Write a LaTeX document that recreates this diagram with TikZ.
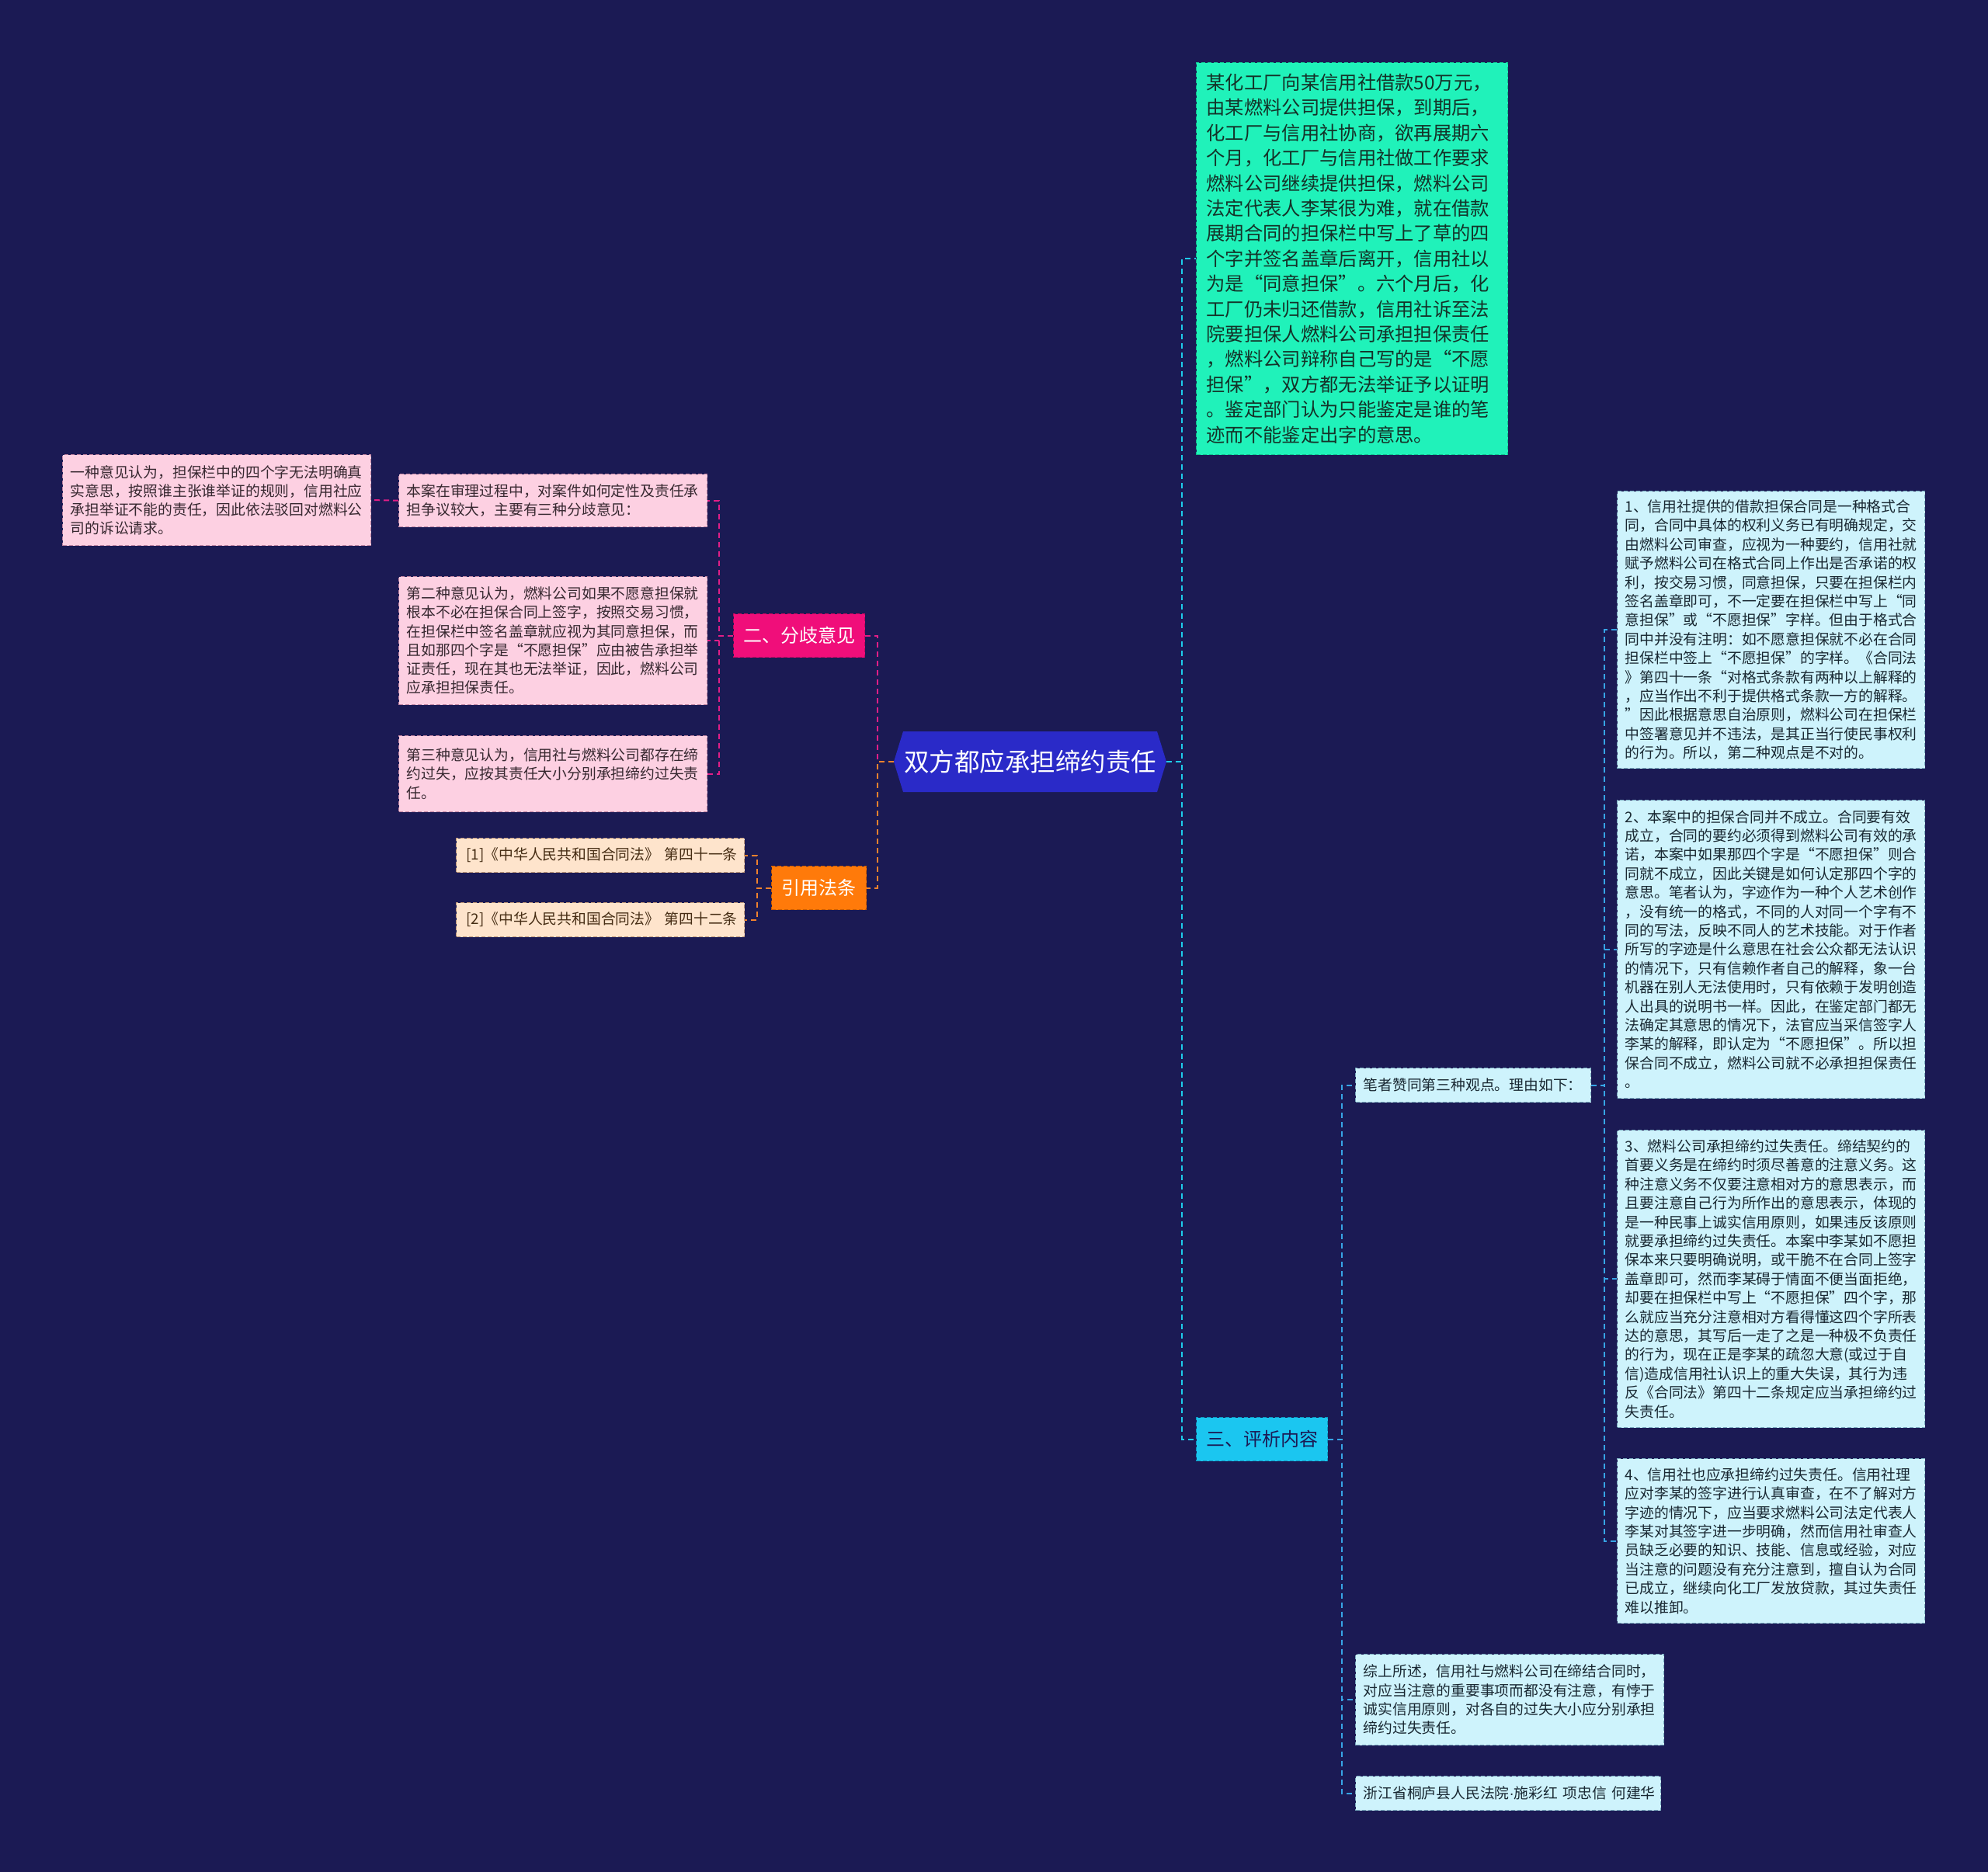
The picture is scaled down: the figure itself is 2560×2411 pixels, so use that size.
\documentclass[tikz,border=0pt]{standalone}
\usepackage{fontspec}
\setmainfont{Noto Sans CJK SC}
\newfontfamily\latinfont{Liberation Sans}
\definecolor{bg}{RGB}{27,26,84}
\definecolor{rootfill}{RGB}{42,42,200}
\definecolor{casefill}{RGB}{32,242,186}
\definecolor{caseedge}{RGB}{15,190,140}
\definecolor{casetext}{RGB}{20,50,40}
\definecolor{sectwofill}{RGB}{240,14,122}
\definecolor{sectwoedge}{RGB}{190,10,95}
\definecolor{seconefill}{RGB}{255,122,10}
\definecolor{seconeedge}{RGB}{200,90,0}
\definecolor{secthreefill}{RGB}{27,198,240}
\definecolor{secthreeedge}{RGB}{15,150,190}
\definecolor{pinkfill}{RGB}{253,208,226}
\definecolor{pinkedge}{RGB}{190,130,160}
\definecolor{pinktext}{RGB}{55,40,48}
\definecolor{peachfill}{RGB}{254,228,204}
\definecolor{peachedge}{RGB}{190,150,120}
\definecolor{peachtext}{RGB}{70,45,20}
\definecolor{lcyanfill}{RGB}{206,243,252}
\definecolor{lcyanedge}{RGB}{120,170,190}
\definecolor{lcyantext}{RGB}{25,40,50}
\definecolor{magline}{RGB}{225,30,135}
\definecolor{orline}{RGB}{240,130,45}
\definecolor{cyline}{RGB}{30,205,235}
\definecolor{blline}{RGB}{55,165,230}
\begin{document}
\begin{tikzpicture}[x=1pt,y=-1pt,
  box/.style={rectangle, draw, dash pattern=on 5pt off 3pt, line width=1.2pt,
    anchor=north west, align=left, inner xsep=10pt, inner ysep=0pt,
    font=\fontsize{18.8pt}{24.2pt}\selectfont},
  pinkbox/.style={box, fill=pinkfill, draw=pinkedge, text=pinktext},
  peachbox/.style={box, fill=peachfill, draw=peachedge, text=peachtext, inner xsep=13pt},
  lcyanbox/.style={box, fill=lcyanfill, draw=lcyanedge, text=lcyantext,
    font=\fontsize{18.8pt}{24.4pt}\selectfont},
  header/.style={rectangle, draw, dash pattern=on 5pt off 3pt, line width=1.2pt,
    anchor=north west, align=center, inner sep=0pt,
    font=\fontsize{24pt}{28pt}\selectfont},
  conn/.style={line width=2pt, dash pattern=on 7pt off 5pt}
]
\useasboundingbox (0,0) rectangle (2560,2411);
\fill[bg] (0,0) rectangle (2560,2411);

% root
\node[minimum width=351pt, minimum height=78pt, inner sep=0pt, text=white,
  font=\fontsize{32.5pt}{36pt}\selectfont,
  path picture={\fill[rootfill] (path picture bounding box.west)
    -- ([xshift=12pt]path picture bounding box.north west)
    -- ([xshift=-12pt]path picture bounding box.north east)
    -- (path picture bounding box.east)
    -- ([xshift=-12pt]path picture bounding box.south east)
    -- ([xshift=12pt]path picture bounding box.south west) -- cycle;}]
  (root) at (1326.5,981) {双方都应承担缔约责任};

% case description
\node[box, fill=casefill, draw=caseedge, text=casetext, inner xsep=13pt,
  font=\fontsize{24.3pt}{32.4pt}\selectfont,
  text width=375pt, minimum width=401pt, minimum height=505pt]
  (case) at (1540,80) {某化工厂向某信用社借款50万元，\\由某燃料公司提供担保，到期后，\\化工厂与信用社协商，欲再展期六\\个月，化工厂与信用社做工作要求\\燃料公司继续提供担保，燃料公司\\法定代表人李某很为难，就在借款\\展期合同的担保栏中写上了草的四\\个字并签名盖章后离开，信用社以\\为是“同意担保”。六个月后，化\\工厂仍未归还借款，信用社诉至法\\院要担保人燃料公司承担担保责任\\，燃料公司辩称自己写的是“不愿\\担保”，双方都无法举证予以证明\\。鉴定部门认为只能鉴定是谁的笔\\迹而不能鉴定出字的意思。};

% headers
\node[header, fill=sectwofill, draw=sectwoedge, text=white,
  minimum width=169pt, minimum height=56pt] (sec2) at (944,790) {二、分歧意见};
\node[header, fill=seconefill, draw=seconeedge, text=white,
  minimum width=122pt, minimum height=56pt] (sec1) at (993,1115) {引用法条};
\node[header, fill=secthreefill, draw=secthreeedge, text=bg,
  minimum width=169pt, minimum height=56pt] (sec3) at (1540,1825) {三、评析内容};

% opinions
\node[pinkbox, text width=377pt, minimum width=397pt, minimum height=68pt]
  (opA) at (513,610) {本案在审理过程中，对案件如何定性及责任承\\担争议较大，主要有三种分歧意见：};
\node[pinkbox, text width=377pt, minimum width=397pt, minimum height=165pt]
  (opB) at (513,742) {第二种意见认为，燃料公司如果不愿意担保就\\根本不必在担保合同上签字，按照交易习惯，\\在担保栏中签名盖章就应视为其同意担保，而\\且如那四个字是“不愿担保”应由被告承担举\\证责任，现在其也无法举证，因此，燃料公司\\应承担担保责任。};
\node[pinkbox, text width=377pt, minimum width=397pt, minimum height=98pt]
  (opC) at (513,947) {第三种意见认为，信用社与燃料公司都存在缔\\约过失，应按其责任大小分别承担缔约过失责\\任。};
\node[pinkbox, text width=377pt, minimum width=397pt, minimum height=117pt]
  (opD) at (80,585) {一种意见认为，担保栏中的四个字无法明确真\\实意思，按照谁主张谁举证的规则，信用社应\\承担举证不能的责任，因此依法驳回对燃料公\\司的诉讼请求。};

% laws
\node[peachbox, text width=345pt, minimum width=371pt, minimum height=44pt]
  (law1) at (587,1079) {\mbox{[1]《中华人民共和国合同法》 第四十一条}};
\node[peachbox, text width=345pt, minimum width=371pt, minimum height=44pt]
  (law2) at (587,1162) {\mbox{[2]《中华人民共和国合同法》 第四十二条}};

% analysis
\node[lcyanbox, text width=283pt, minimum width=303pt, minimum height=44pt]
  (author) at (1745,1375) {笔者赞同第三种观点。理由如下：};
\node[lcyanbox, text width=377pt, minimum width=397pt, minimum height=117pt]
  (summary) at (1745,2130) {综上所述，信用社与燃料公司在缔结合同时，\\对应当注意的重要事项而都没有注意，有悖于\\诚实信用原则，对各自的过失大小应分别承担\\缔约过失责任。};
\node[lcyanbox, text width=373pt, minimum width=393pt, minimum height=44pt]
  (court) at (1745,2287) {\mbox{浙江省桐庐县人民法院{\latinfont ·}施彩红 项忠信 何建华}};

\node[lcyanbox, text width=376pt, minimum width=396pt, minimum height=357pt]
  (r1) at (2082,632) {1、信用社提供的借款担保合同是一种格式合\\同，合同中具体的权利义务已有明确规定，交\\由燃料公司审查，应视为一种要约，信用社就\\赋予燃料公司在格式合同上作出是否承诺的权\\利，按交易习惯，同意担保，只要在担保栏内\\签名盖章即可，不一定要在担保栏中写上“同\\意担保”或“不愿担保”字样。但由于格式合\\同中并没有注明：如不愿意担保就不必在合同\\担保栏中签上“不愿担保”的字样。《合同法\\》第四十一条“对格式条款有两种以上解释的\\，应当作出不利于提供格式条款一方的解释。\\”因此根据意思自治原则，燃料公司在担保栏\\中签署意见并不违法，是其正当行使民事权利\\的行为。所以，第二种观点是不对的。};
\node[lcyanbox, text width=376pt, minimum width=396pt, minimum height=384pt]
  (r2) at (2082,1030) {2、本案中的担保合同并不成立。合同要有效\\成立，合同的要约必须得到燃料公司有效的承\\诺，本案中如果那四个字是“不愿担保”则合\\同就不成立，因此关键是如何认定那四个字的\\意思。笔者认为，字迹作为一种个人艺术创作\\，没有统一的格式，不同的人对同一个字有不\\同的写法，反映不同人的艺术技能。对于作者\\所写的字迹是什么意思在社会公众都无法认识\\的情况下，只有信赖作者自己的解释，象一台\\机器在别人无法使用时，只有依赖于发明创造\\人出具的说明书一样。因此，在鉴定部门都无\\法确定其意思的情况下，法官应当采信签字人\\李某的解释，即认定为“不愿担保”。所以担\\保合同不成立，燃料公司就不必承担担保责任\\。};
\node[lcyanbox, text width=376pt, minimum width=396pt, minimum height=383pt]
  (r3) at (2082,1455) {3、燃料公司承担缔约过失责任。缔结契约的\\首要义务是在缔约时须尽善意的注意义务。这\\种注意义务不仅要注意相对方的意思表示，而\\且要注意自己行为所作出的意思表示，体现的\\是一种民事上诚实信用原则，如果违反该原则\\就要承担缔约过失责任。本案中李某如不愿担\\保本来只要明确说明，或干脆不在合同上签字\\盖章即可，然而李某碍于情面不便当面拒绝，\\却要在担保栏中写上“不愿担保”四个字，那\\么就应当充分注意相对方看得懂这四个字所表\\达的意思，其写后一走了之是一种极不负责任\\的行为，现在正是李某的疏忽大意(或过于自\\信)造成信用社认识上的重大失误，其行为违\\反《合同法》第四十二条规定应当承担缔约过\\失责任。};
\node[lcyanbox, text width=376pt, minimum width=396pt, minimum height=212pt]
  (r4) at (2082,1878) {4、信用社也应承担缔约过失责任。信用社理\\应对李某的签字进行认真审查，在不了解对方\\字迹的情况下，应当要求燃料公司法定代表人\\李某对其签字进一步明确，然而信用社审查人\\员缺乏必要的知识、技能、信息或经验，对应\\当注意的问题没有充分注意到，擅自认为合同\\已成立，继续向化工厂发放贷款，其过失责任\\难以推卸。};

% connectors
\draw[conn, cyline] (root.east) -- ++(20,0) |- (case.west);
\draw[conn, cyline] (root.east) -- ++(20,0) |- (sec3.west);
\draw[conn, magline] (root.west) -- ++(-21,0) |- (sec2.east);
\draw[conn, orline] (root.west) -- ++(-21,0) |- (sec1.east);
\draw[conn, magline] (sec2.west) -- ++(-18,0) |- (opA.east);
\draw[conn, magline] (sec2.west) -- ++(-18,0) |- (opB.east);
\draw[conn, magline] (sec2.west) -- ++(-18,0) |- (opC.east);
\draw[conn, magline] (opA.west) -- (opD.east);
\draw[conn, orline] (sec1.west) -- ++(-18,0) |- (law1.east);
\draw[conn, orline] (sec1.west) -- ++(-18,0) |- (law2.east);
\draw[conn, blline] (sec3.east) -- ++(18,0) |- (author.west);
\draw[conn, blline] (sec3.east) -- ++(18,0) |- (summary.west);
\draw[conn, blline] (sec3.east) -- ++(18,0) |- (court.west);
\draw[conn, blline] (author.east) -- ++(17,0) |- (r1.west);
\draw[conn, blline] (author.east) -- ++(17,0) |- (r2.west);
\draw[conn, blline] (author.east) -- ++(17,0) |- (r3.west);
\draw[conn, blline] (author.east) -- ++(17,0) |- (r4.west);
\end{tikzpicture}
\end{document}
